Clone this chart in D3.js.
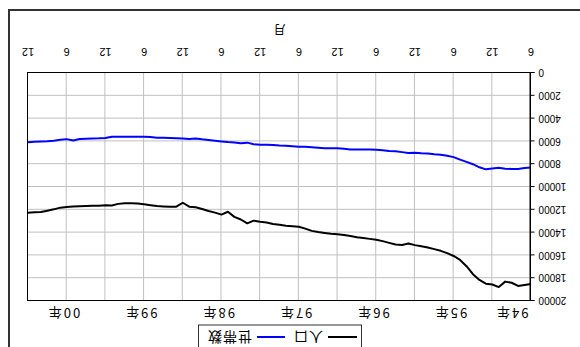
<!DOCTYPE html>
<html>
<head>
<meta charset="utf-8">
<script src="https://cdn.jsdelivr.net/npm/d3@7"></script>
<style>
  html, body { margin: 0; padding: 0; background: #fff; }
  svg { display: block; }
  text { font-family: "Liberation Sans", Arial, sans-serif; }
  .jp { font-family: "Noto Sans CJK JP", sans-serif; }
</style>
</head>
<body>
<div id="chart"></div>
<script>
// 月次データ 1994年6月 ～ 2000年12月
const startYear = 1994;
const startMonth = 6;

const population = [
  18510, 18600, 18680, 18400, 18300, 18780, 18550, 18480, 18150, 17650,
  16950, 16400, 16050, 15800, 15600, 15450, 15300, 15200, 15100, 14950,
  15080, 15050, 14900, 14750, 14620, 14550, 14480, 14410, 14300, 14220,
  14150, 14100, 14030, 13950, 13850, 13650, 13480, 13440, 13400, 13320,
  13250, 13120, 13050, 12950, 13190, 12850, 12620, 12170, 12420, 12250,
  12100, 11930, 11780, 11730, 11380, 11730, 11730, 11700, 11670, 11600,
  11520, 11450, 11430, 11430, 11480, 11620, 11600, 11640, 11650, 11670,
  11690, 11720, 11750, 11810, 11960, 12080, 12190, 12220, 12250
];
const households = [
  8280, 8330, 8420, 8420, 8400, 8310, 8370, 8450, 8270, 8000,
  7800, 7600, 7380, 7260, 7180, 7130, 7060, 7040, 7000, 7020,
  6940, 6860, 6850, 6780, 6730, 6700, 6700, 6700, 6700, 6650,
  6610, 6610, 6600, 6560, 6510, 6480, 6460, 6420, 6380, 6360,
  6320, 6300, 6290, 6250, 6110, 6170, 6100, 6060, 6000, 5940,
  5870, 5820, 5740, 5780, 5740, 5730, 5710, 5690, 5670, 5620,
  5590, 5590, 5590, 5590, 5590, 5600, 5700, 5730, 5740, 5760,
  5790, 5920, 5800, 5860, 5950, 5990, 6000, 6030, 6080
];
const monthTickLabels = ["6","12","6","12","6","12","6","12","6","12","6","12","6","12"];
const yearLabels = ["94年","95年","96年","97年","98年","99年","00年"];
const yTicks = [0, 2000, 4000, 6000, 8000, 10000, 12000, 14000, 16000, 18000, 20000];
const seriesNames = ["人口", "世帯数"];
const seriesColors = ["#000000", "#0000ff"];

// カテゴリ（年・月）
const months = population.map((d, i) => {
  const t = startMonth - 1 + i;
  return { idx: i, year: startYear + Math.floor(t / 12), month: (t % 12) + 1 };
});

const W = 580, H = 347;
const pl = 49, pr = 552, pt = 46, pb = 274;

const svg = d3.select("#chart").append("svg")
  .attr("width", W).attr("height", H);

// 元の図は180度回転している
const g = svg.append("g")
  .attr("transform", "rotate(180," + (W / 2) + "," + (H / 2) + ")");

const x = d3.scaleLinear().domain([0, months.length - 1]).range([pl, pr]);
const y = d3.scaleLinear().domain([0, 20000]).range([pb, pt]);

// 外枠
g.append("path")
  .attr("d", "M" + (W - 9) + ",-5 V" + (H - 10) + " H-5")
  .attr("fill", "none").attr("stroke", "#333").attr("stroke-width", 2);

// グリッド
const tickIdx = months.filter(m => m.month === 6 || m.month === 12).map(m => m.idx);
const hg = g.append("g").attr("transform", "translate(" + pl + ",0)")
  .call(d3.axisLeft(y).tickValues(yTicks.slice(1, -1)).tickSize(-(pr - pl)).tickFormat(""));
hg.select(".domain").remove();
hg.selectAll("line").attr("stroke", "#c0c0c0");

const vg = g.append("g").attr("transform", "translate(0," + pb + ")")
  .call(d3.axisBottom(x).tickValues(tickIdx.slice(1, -1)).tickSize(-(pb - pt)).tickFormat(""));
vg.select(".domain").remove();
vg.selectAll("line").attr("stroke", "#c0c0c0");

// 線
const line = d3.line().x((d, i) => x(i)).y(d => y(d));
[population, households].forEach((s, k) => {
  g.append("path").datum(s)
    .attr("fill", "none")
    .attr("stroke", seriesColors[k])
    .attr("stroke-width", 2)
    .attr("stroke-linejoin", "round")
    .attr("d", line);
});

// 枠
g.append("rect")
  .attr("x", pl + 0.5).attr("y", pt + 0.5)
  .attr("width", pr - pl).attr("height", pb - pt)
  .attr("fill", "none").attr("stroke", "#000").attr("stroke-width", 1);

// Y軸
const yAxis = d3.axisLeft(y).tickValues(yTicks).tickFormat(d3.format("d"))
  .tickSize(4).tickPadding(4);
const ya = g.append("g").attr("transform", "translate(" + (pl + 0.5) + ",0)").call(yAxis);
ya.select(".domain").attr("stroke", "#000");
ya.selectAll("text").attr("font-size", 10).attr("fill", "#000")
  .style("font-family", "Liberation Sans, Arial, sans-serif");

// 月ラベル
g.append("g").selectAll("text").data(tickIdx).join("text")
  .attr("x", d => x(d)).attr("y", pb + 25)
  .attr("text-anchor", "middle")
  .attr("font-size", 11)
  .text((d, i) => monthTickLabels[i]);

g.append("text").attr("class", "jp")
  .attr("x", (pl + pr) / 2).attr("y", pb + 48)
  .attr("text-anchor", "middle").attr("font-size", 12)
  .text("月");

// 年ラベル
const years = d3.groups(months, m => m.year);
g.append("g").selectAll("text").data(years).join("text")
  .attr("class", "jp")
  .attr("x", d => x(d3.mean(d[1], m => m.idx)))
  .attr("y", pt - 7)
  .attr("text-anchor", "middle")
  .attr("font-size", 13)
  .attr("letter-spacing", 2)
  .text((d, i) => yearLabels[i]);

// 凡例
const lg = g.append("g");
lg.append("rect")
  .attr("x", 218.5).attr("y", -10).attr("width", 163).attr("height", 32)
  .attr("fill", "#fff").attr("stroke", "#333").attr("stroke-width", 1);
const legendX = [[223, 252, 257], [295, 323, 328]];
seriesNames.forEach((n, k) => {
  lg.append("line")
    .attr("x1", legendX[k][0]).attr("x2", legendX[k][1])
    .attr("y1", 10).attr("y2", 10)
    .attr("stroke", seriesColors[k]).attr("stroke-width", 2);
  lg.append("text").attr("class", "jp")
    .attr("x", legendX[k][2]).attr("y", 15)
    .attr("font-size", 14)
    .attr("letter-spacing", 1)
    .text(n);
});
</script>
</body>
</html>
